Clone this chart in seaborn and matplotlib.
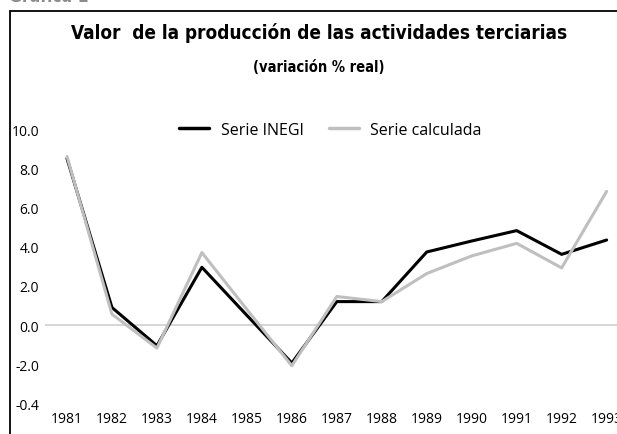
import matplotlib
matplotlib.use("Agg")
import matplotlib.pyplot as plt
import matplotlib.patches as patches
from matplotlib import font_manager
import seaborn as sns
import pandas as pd

years = ["1981", "1982", "1983", "1984", "1985", "1986", "1987",
         "1988", "1989", "1990", "1991", "1992", "1993"]
serie_inegi = [8.5, 0.9, -1.05, 2.95, 0.5, -1.93, 1.2, 1.2, 3.73, 4.29, 4.82, 3.61, 4.34]
serie_calculada = [8.6, 0.56, -1.17, 3.7, 0.8, -2.07, 1.46, 1.2, 2.63, 3.53, 4.17, 2.92, 6.82]
ytick_values = [-4, -2, 0, 2, 4, 6, 8, 10]
ytick_labels = ["-0.4", "-2.0", "0.0", "2.0", "4.0", "6.0", "8.0", "10.0"]
series_names = ["Serie INEGI", "Serie calculada"]
title = "Valor  de la producción de las actividades terciarias"
subtitle = "(variación % real)"

sns.set_theme(style="white")
body = "Open Sans"
plt.rcParams["font.family"] = [body, "DejaVu Sans"]
plt.rcParams["text.color"] = "#000000"

# find a condensed bold face if one is installed
cond_props = None
for f in font_manager.fontManager.ttflist:
    st = str(f.stretch).lower()
    nm = f.name.lower()
    w = f.weight if isinstance(f.weight, int) else 700 if "bold" in str(f.weight) else 400
    if ("condensed" in st or "narrow" in nm or "condensed" in nm) and w >= 600:
        cond_props = font_manager.FontProperties(fname=f.fname)
        break

df = pd.DataFrame({
    "year": years * 2,
    "value": serie_inegi + serie_calculada,
    "serie": [series_names[0]] * len(years) + [series_names[1]] * len(years),
})

W, H = 617, 435
fig = plt.figure(figsize=(W / 100, H / 100), dpi=100)
x0, x1 = 44.5, 44.5 + 13 * 44.97
y_top, y_bot = 130.0, 404.6
ax = fig.add_axes([x0 / W, (H - y_bot) / H, (x1 - x0) / W, (y_bot - y_top) / H])

ax.axhline(0, color="#d0d0d0", lw=1.2, zorder=1)
sns.lineplot(data=df, x="year", y="value", hue="serie",
             palette=["#000000", "#bfbfbf"], linewidth=2.2, ax=ax,
             sort=False, zorder=3)

ax.set_xlim(-0.5, 12.5)
ax.set_ylim(-4, 10)
ax.set_yticks(ytick_values)
ax.set_yticklabels(ytick_labels)
ax.set_xlabel("")
ax.set_ylabel("")
for s in ax.spines.values():
    s.set_visible(False)
ax.tick_params(axis="both", length=0, labelsize=10, colors="#000000")
ax.tick_params(axis="x", pad=5)
ax.tick_params(axis="y", pad=4)
for lbl in ax.get_yticklabels():
    lbl.set_horizontalalignment("right")

leg = ax.legend(loc="upper left", bbox_to_anchor=(179 / W, 1 - 123 / H),
                bbox_transform=fig.transFigure, ncol=2, frameon=False,
                fontsize=11.5, handlelength=1.85, handletextpad=0.75,
                columnspacing=1.6, borderpad=0, borderaxespad=0)
for h in leg.get_lines():
    h.set_linewidth(2.5)
for t in leg.get_texts():
    t.set_color("#000000")

if cond_props is not None:
    tp = cond_props.copy()
    tp.set_size(13.6)
    sp = cond_props.copy()
    sp.set_size(10.5)
    gp = cond_props.copy()
    gp.set_size(12.5)
else:
    tp = font_manager.FontProperties(family="DejaVu Sans", weight="bold", stretch="condensed", size=13.6)
    sp = font_manager.FontProperties(family="DejaVu Sans", weight="bold", stretch="condensed", size=10.5)
    gp = font_manager.FontProperties(family="DejaVu Sans", weight="bold", stretch="condensed", size=12.5)

fig.text(319 / W, 1 - 33 / H, title, ha="center", va="center", fontproperties=tp, color="#000000")
fig.text(319 / W, 1 - 67 / H, subtitle, ha="center", va="center", fontproperties=sp, color="#000000")
fig.text(9 / W, 1 - 6 / H, "Gráfica 1", ha="left", va="bottom",
         color="#8c8c8c", fontproperties=gp)

fig.add_artist(patches.Rectangle((10 / W, -0.2), 1.2, 1.2 - 12 / H,
                                 transform=fig.transFigure, fill=False,
                                 edgecolor="#000000", linewidth=1.3))

fig.savefig("out.png", dpi=100)
